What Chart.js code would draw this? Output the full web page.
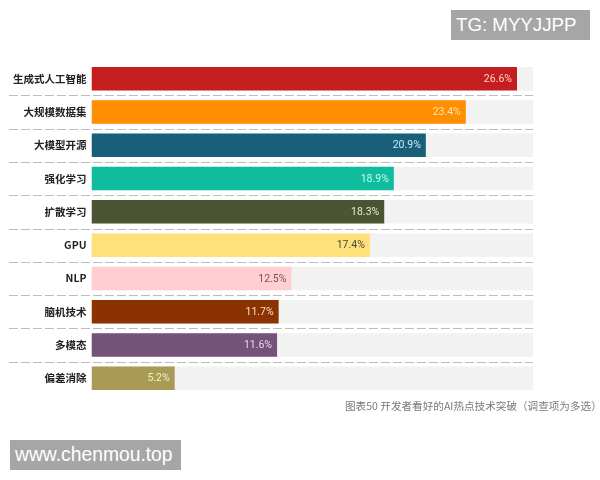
<!DOCTYPE html>
<html>
<head>
<meta charset="utf-8">
<script src="https://cdn.jsdelivr.net/npm/chart.js@4/dist/chart.umd.min.js"></script>
<style>
  html, body { margin: 0; padding: 0; background: #fff; }
  #wrap { position: relative; width: 600px; height: 480px; overflow: hidden; }
  .mark { position: absolute; background: #a6a6a6; color: #fff; font-family: "Liberation Sans", sans-serif; line-height: 30px; height: 30px; white-space: nowrap; box-sizing: border-box; padding-left: 5px; }
  #caption { position: absolute; left: 345px; top: 399px; font-family: "Noto Sans CJK SC", sans-serif; font-size: 10.6px; line-height: 14px; color: #7a7a7a; white-space: nowrap; }
</style>
</head>
<body>
<div id="wrap">
  <canvas id="chart" width="600" height="480"></canvas>
  <div class="mark" style="left:451px;top:10px;width:139px;font-size:18.7px;">TG: MYYJJPP</div>
  <div class="mark" style="left:10px;top:440px;width:171px;font-size:19.3px;">www.chenmou.top</div>
  <div id="caption">图表50 开发者看好的AI热点技术突破（调查项为多选）</div>
</div>
<script>
const categories = ["生成式人工智能", "大规模数据集", "大模型开源", "强化学习", "扩散学习", "GPU", "NLP", "脑机技术", "多模态", "偏差消除"];
const values = [26.6, 23.4, 20.9, 18.9, 18.3, 17.4, 12.5, 11.7, 11.6, 5.2];
const trackValues = [27.6, 27.6, 27.6, 27.6, 27.6, 27.6, 27.6, 27.6, 27.6, 27.6];
const barColors = ["#c41e1e", "#ff8f00", "#1a5f7a", "#0fbc9e", "#4b5534", "#ffe17a", "#ffcdd2", "#8a3300", "#75527a", "#a99a55"];
const labelColors = ["#ffd0c8", "#ffe2b0", "#c4ecf5", "#c8fbef", "#e2ead0", "#4a4a3a", "#6f5a5c", "#ffdcc0", "#e6d8ea", "#f5efd0"];

// separators between the rows and the value labels at the bar ends
const rowDecor = {
  id: 'rowDecor',
  afterDatasetsDraw(chart) {
    const c = chart.ctx;
    const y = chart.scales.y;
    const area = chart.chartArea;
    c.save();
    c.strokeStyle = '#bdbdbd';
    c.lineWidth = 1;
    c.setLineDash([9, 3]);
    for (let i = 0; i < categories.length - 1; i++) {
      const py = Math.round((y.getPixelForValue(i) + y.getPixelForValue(i + 1)) / 2) + 0.5;
      c.beginPath();
      c.moveTo(9, py);
      c.lineTo(area.right, py);
      c.stroke();
    }
    c.setLineDash([]);
    c.font = '10.5px Roboto, sans-serif';
    c.textAlign = 'right';
    c.textBaseline = 'middle';
    chart.getDatasetMeta(1).data.forEach((bar, i) => {
      c.fillStyle = labelColors[i];
      c.fillText(values[i].toFixed(1) + '%', bar.x - 5, bar.y + 0.5);
    });
    c.restore();
  }
};

new Chart(document.getElementById('chart').getContext('2d'), {
  type: 'bar',
  data: {
    labels: categories,
    datasets: [
      { label: '背景', data: trackValues, backgroundColor: '#f2f2f2', order: 2 },
      { label: '占比', data: values, backgroundColor: barColors, order: 1 }
    ]
  },
  options: {
    indexAxis: 'y',
    responsive: false,
    animation: false,
    grouped: false,
    categoryPercentage: 1,
    barPercentage: 0.705,
    layout: { padding: { top: 62, bottom: 85, right: 67, left: 0 } },
    scales: {
      x: { display: false, min: 0, max: 27.6 },
      y: {
        afterFit(scale) { scale.width = 91.5; },
        grid: { display: false, drawTicks: false },
        border: { display: false },
        ticks: {
          color: '#222222',
          padding: 5,
          autoSkip: false,
          font: { family: '"Noto Sans CJK SC"', size: 10.5, weight: 'bold' }
        }
      }
    },
    plugins: {
      legend: { display: false },
      tooltip: { enabled: false }
    }
  },
  plugins: [rowDecor]
});
</script>
</body>
</html>
